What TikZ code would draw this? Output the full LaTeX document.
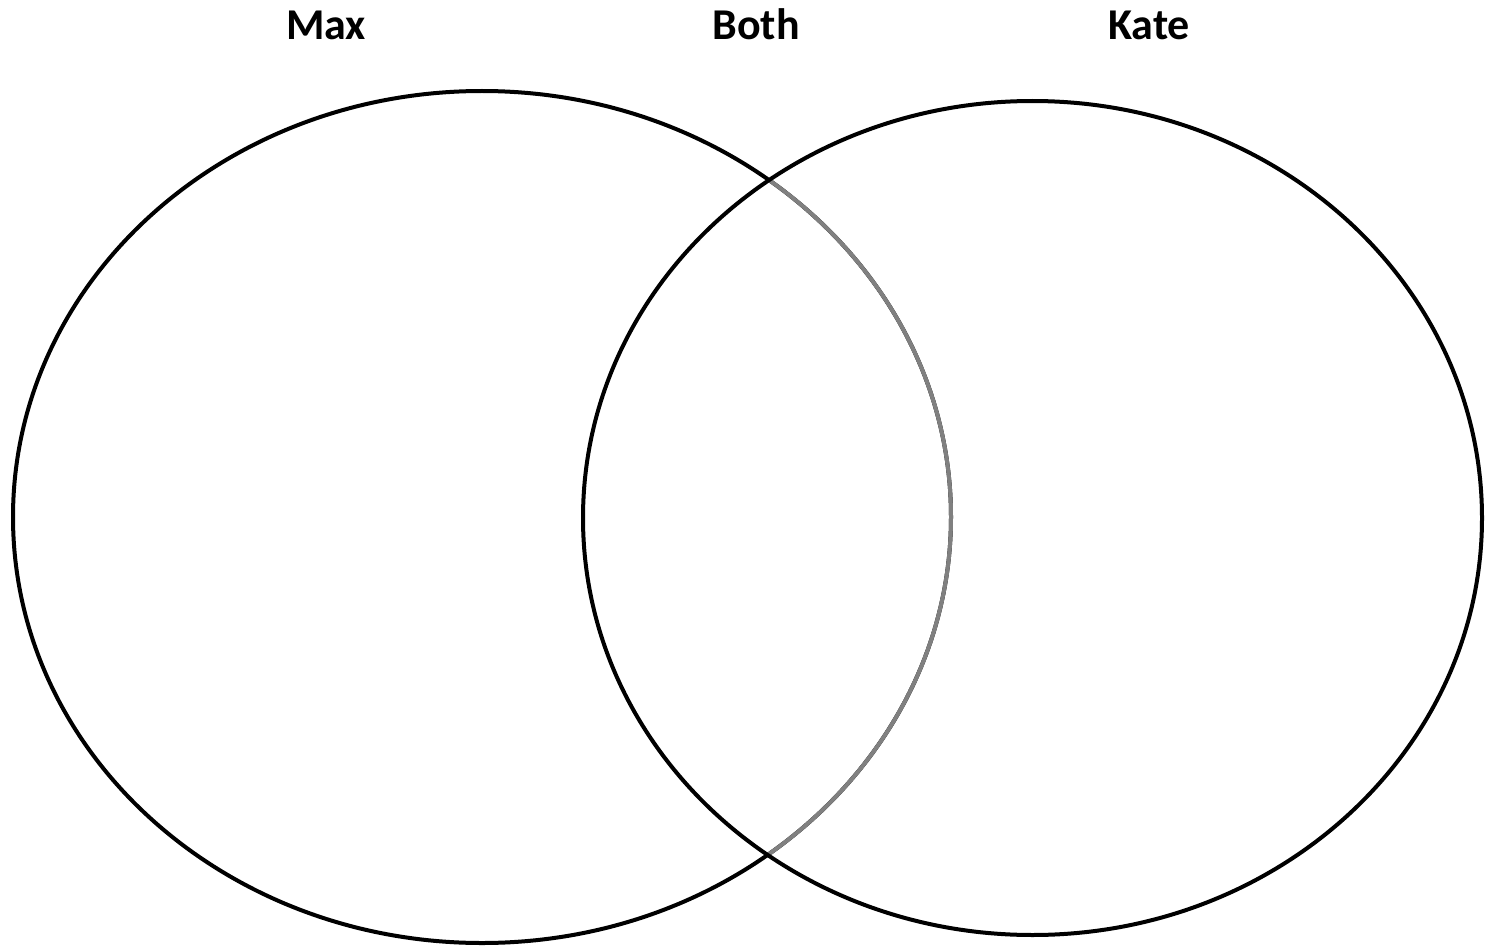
\documentclass[tikz,border=0pt]{standalone}
\usepackage{fontspec}
\setmainfont{Carlito}
\begin{document}
\begin{tikzpicture}[x=1pt,y=-1pt,
  ring/.style={line width=4pt,draw=black},
  inner/.style={line width=4pt,draw=black!50},
  label/.style={font=\fontsize{44}{52}\selectfont\bfseries,anchor=base,inner sep=0pt}]
\useasboundingbox[fill=white] (0,0) rectangle (1486,947);
\draw[ring] (482,517) ellipse [x radius=469, y radius=426];
\begin{scope}
  \clip (1032.5,518) ellipse [x radius=449.5, y radius=417];
  \draw[inner] (482,517) ellipse [x radius=469, y radius=426];
\end{scope}
\draw[ring] (1032.5,518) ellipse [x radius=449.5, y radius=417];
\node[label] (max) at (326,40) {Max};
\node[label] (both) at (756,40) {Both};
\node[label] (kate) at (1149,40) {Kate};
\end{tikzpicture}
\end{document}
